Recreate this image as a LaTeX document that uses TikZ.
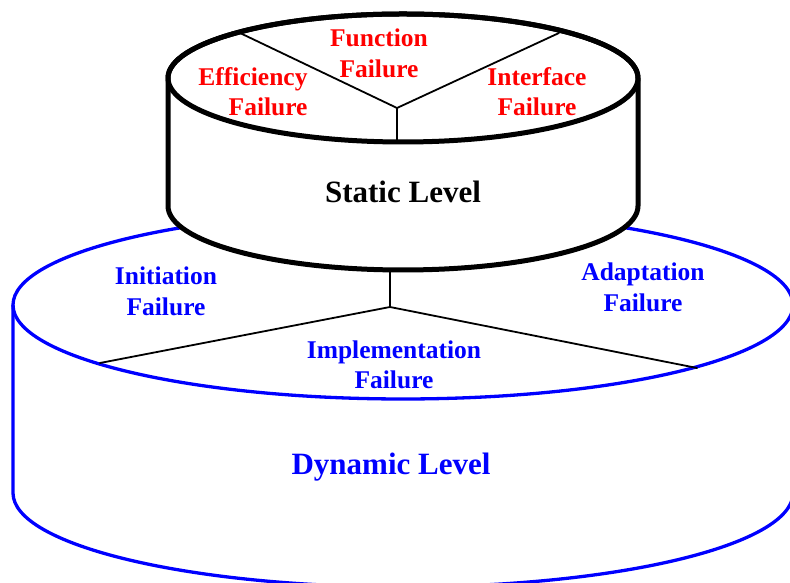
\documentclass[tikz,border=0pt]{standalone}
\usepackage{fontspec}
\setmainfont{Liberation Serif}
\usepackage{tkz-euclide}
\definecolor{StaticClr}{rgb}{1,0,0}
\definecolor{DynamicClr}{rgb}{0,0,1}

\begin{document}
\begin{tikzpicture}[x=1pt,y=1pt,line join=round,
  failure/.style={font=\fontsize{25.5}{30.5}\selectfont\bfseries,align=center,inner sep=0pt},
  level/.style={font=\fontsize{31}{36}\selectfont\bfseries,inner sep=0pt}]
\useasboundingbox (0,0) rectangle (790,583);
\clip (0,0) rectangle (790,583);

% dynamic level
\draw[DynamicClr,line width=3.3pt] (13,278) -- (13,90)
  arc[start angle=180,end angle=360,x radius=390,y radius=94] -- (793,278);
\draw[DynamicClr,line width=3.3pt] (403,278) ellipse [x radius=390,y radius=94];

\tkzDefPoints{390/311/T,390/276/G,100/220/N,697/215/A}
\tkzDrawSegments[line width=1.8pt,color=black](T,G G,N G,A)

% static level
\filldraw[fill=white,line width=5pt] (168,505) -- (168,377)
  arc[start angle=180,end angle=360,x radius=235,y radius=64] -- (638,505)
  arc[start angle=0,end angle=180,x radius=235,y radius=64] -- cycle;
\draw[line width=5pt] (403,505) ellipse [x radius=235,y radius=64];

\tkzDefPoints{397/475/H,240/550/E,559/550/I,397/441/F}
\tkzDrawSegments[line width=1.8pt,color=black](H,E H,I H,F)

\node[failure,StaticClr] (func) at (379,529.5) {Function\\Failure};
\node[failure,StaticClr,align=right] (effi) at (253,491.5) {Efficiency\\Failure};
\node[failure,StaticClr] (inter) at (537,491.5) {Interface\\Failure};
\node[level] (static) at (403,391) {Static Level};

\node[failure,DynamicClr] (init) at (166,291.5) {Initiation\\Failure};
\node[failure,DynamicClr] (adapt) at (643,295.5) {Adaptation\\Failure};
\node[failure,DynamicClr] (impl) at (394,218) {Implementation\\Failure};
\node[level,DynamicClr] (dynamic) at (391,116) {Dynamic Level};

\end{tikzpicture}
\end{document}
